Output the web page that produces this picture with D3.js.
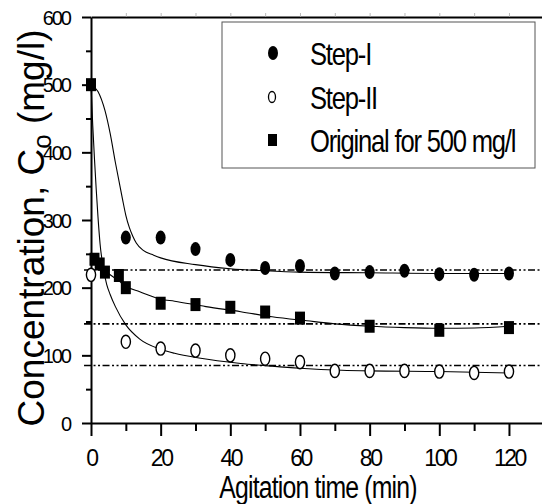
<!DOCTYPE html>
<html><head><meta charset="utf-8">
<script src="https://cdn.jsdelivr.net/npm/d3@7"></script>
<style>body{margin:0;background:#fff} svg{display:block} text{font-family:"Liberation Sans",Arial,sans-serif;fill:#000}</style>
</head><body><svg id="c" width="542" height="504"></svg>
<script>
// ---- data ----
const stepITime = [0,10,20,30,40,50,60,70,80,90,100,110,120];
const stepIConc = [500,274,274,257,241,229,232,221,223,225,220,219,221];
const stepIITime = [0,10,20,30,40,50,60,70,80,90,100,110,120];
const stepIIConc = [219,120,110,107,100,95,90,77,77,77,76,74,76];
const origTime = [0,1,2.5,4,8,10,20,30,40,50,60,80,100,120];
const origConc = [500,242,235,223,218,200,177,175,171,164,155,143,137,141];

const stepIFitTime = [0,2,4,5.5,7,9,10,11,12,13,15,18,20,30,40,50,60,80,100,120];
const stepIFitConc = [500,490,462,428,385,332,307,289,276,266,255,248,244,234,228,225,223,222,221,221];
const stepIIFitTime = [0,0.5,1,1.5,2,2.6,3.5,4.5,5.5,7,10,14,20,24,31,43,52,60,72,80,100,120];
const stepIIFitConc = [500,440,390,345,305,265,230,205,190,172,145,124,109,103,96,88,84,81,78,77,76,74];
const origFitTime = [1,4,8,10,14,20,24,33,43,52,62,70,80,90,100,110,120];
const origFitConc = [240,225,210,202,194,183,180,172,164.5,157,151,146.5,143,141,140,140.5,143];

const refLevels = [226,146.5,85];

const xMajor = [0,20,40,60,80,100,120];
const xMinor = [10,30,50,70,90,110];
const xTop = [10,20,30,40,50,60,70,80,90,100,110,120,130];
const yMajor = [0,100,200,300,400,500,600];
const yMinor = [50,150,250,350,450,550];

const legendLabels = ["Step-I","Step-II","Original for 500 mg/l"];
const xTitle = "Agitation time (min)";

// ---- drawing ----
const svg = d3.select("#c");
const x = d3.scaleLinear().domain([0,130]).range([91, 91+130*3.483]);
const y = d3.scaleLinear().domain([0,600]).range([423,17]);

// reference dash-dot-dot lines
svg.append("g").selectAll("line").data(refLevels).join("line")
  .attr("x1", x(-2)).attr("x2", 542)
  .attr("y1", d=>y(d)).attr("y2", d=>y(d))
  .attr("stroke","#000").attr("stroke-width",1.6)
  .attr("stroke-dasharray","7,2.5,2,2.5,2,2.5");

// fitted curves
const line = d3.line().x(d=>x(d[0])).y(d=>y(d[1])).curve(d3.curveMonotoneX);
[[stepIFitTime,stepIFitConc],[stepIIFitTime,stepIIFitConc],[origFitTime,origFitConc]].forEach(([t,c])=>{
  svg.append("path").datum(t.map((v,i)=>[v,c[i]]))
    .attr("d", line).attr("fill","none").attr("stroke","#000").attr("stroke-width",1.1);
});

// axes
const gy = svg.append("g").attr("transform",`translate(${x(0)},0)`)
  .call(d3.axisLeft(y).tickValues(yMajor).tickSize(9).tickSizeOuter(0).tickPadding(12).tickFormat(d3.format("d")));
gy.select(".domain").attr("stroke-width",2);
gy.selectAll(".tick line").attr("stroke-width",2);
gy.selectAll(".tick text").attr("font-size",20).attr("letter-spacing","-2px")
  .attr("font-family","Liberation Sans, Arial, sans-serif").attr("dy","0.35em");
const gym = svg.append("g").attr("transform",`translate(${x(0)},0)`)
  .call(d3.axisLeft(y).tickValues(yMinor).tickSize(5).tickSizeOuter(0).tickFormat(""));
gym.select(".domain").remove();
gym.selectAll(".tick line").attr("stroke-width",2);

const gx = svg.append("g").attr("transform",`translate(0,${y(0)})`)
  .call(d3.axisBottom(x).tickValues(xMajor).tickSize(13).tickSizeOuter(0).tickPadding(14).tickFormat(d3.format("d")));
gx.select(".domain").attr("stroke-width",2);
gx.selectAll(".tick line").attr("stroke-width",2);
gx.selectAll(".tick text").attr("font-size",23).attr("letter-spacing","-2.5px")
  .attr("font-family","Liberation Sans, Arial, sans-serif").attr("dy","0.71em");
const gxm = svg.append("g").attr("transform",`translate(0,${y(0)})`)
  .call(d3.axisBottom(x).tickValues(xMinor).tickSize(8).tickSizeOuter(0).tickFormat(""));
gxm.select(".domain").remove();
gxm.selectAll(".tick line").attr("stroke-width",2);

// top frame line with faint ticks
const gt = svg.append("g").attr("transform",`translate(0,${y(600)})`)
  .call(d3.axisTop(x).tickValues(xTop).tickSize(4).tickSizeOuter(0).tickFormat(""));
gt.select(".domain").attr("stroke-width",2);
gt.selectAll(".tick line").attr("stroke","#aaa").attr("stroke-width",0.8);

// markers
svg.append("g").selectAll("rect").data(origTime.map((t,i)=>[t,origConc[i]])).join("rect")
  .attr("x",d=>x(d[0])-5).attr("y",d=>y(d[1])-6.5).attr("width",10).attr("height",13).attr("fill","#000");
svg.append("g").selectAll("ellipse").data(stepITime.map((t,i)=>[t,stepIConc[i]]).slice(1)).join("ellipse")
  .attr("cx",d=>x(d[0])).attr("cy",d=>y(d[1])).attr("rx",5).attr("ry",7).attr("fill","#000");
svg.append("g").selectAll("ellipse").data(stepIITime.map((t,i)=>[t,stepIIConc[i]])).join("ellipse")
  .attr("cx",d=>x(d[0])).attr("cy",d=>y(d[1])).attr("rx",4.6).attr("ry",6.6)
  .attr("fill","#fff").attr("stroke","#000").attr("stroke-width",1.4);

// axis titles
svg.append("text").attr("transform","translate(44,228) rotate(-90)")
  .attr("text-anchor","middle").attr("font-size",37)
  .call(t=>{
    t.append("tspan").text("Concentration, C");
    t.append("tspan").text("o").attr("font-size",26).attr("dy",7);
    t.append("tspan").text(" (mg/l)").attr("dy",-7);
  });
svg.append("text").attr("transform","translate(318,498) scale(0.8,1)")
  .attr("text-anchor","middle").attr("font-size",31).attr("letter-spacing","-1px").text(xTitle);

// legend
const lg = svg.append("g");
lg.append("rect").attr("x",222).attr("y",22).attr("width",313).attr("height",146)
  .attr("fill","#fff").attr("stroke","#555").attr("stroke-width",1);
const rows = [53,97,140];
lg.append("ellipse").attr("cx",273).attr("cy",rows[0]).attr("rx",5).attr("ry",7).attr("fill","#000");
lg.append("ellipse").attr("cx",272).attr("cy",rows[1]).attr("rx",3.5).attr("ry",5.5)
  .attr("fill","#fff").attr("stroke","#000").attr("stroke-width",1.3);
lg.append("rect").attr("x",268).attr("y",rows[2]-6).attr("width",9).attr("height",12).attr("fill","#000");
legendLabels.forEach((s,i)=>{
  lg.append("text").attr("transform",`translate(310,${rows[i]+11.5}) scale(0.8,1)`)
    .attr("font-size",32).attr("letter-spacing","-1.5px").text(s);
});
</script></body></html>
